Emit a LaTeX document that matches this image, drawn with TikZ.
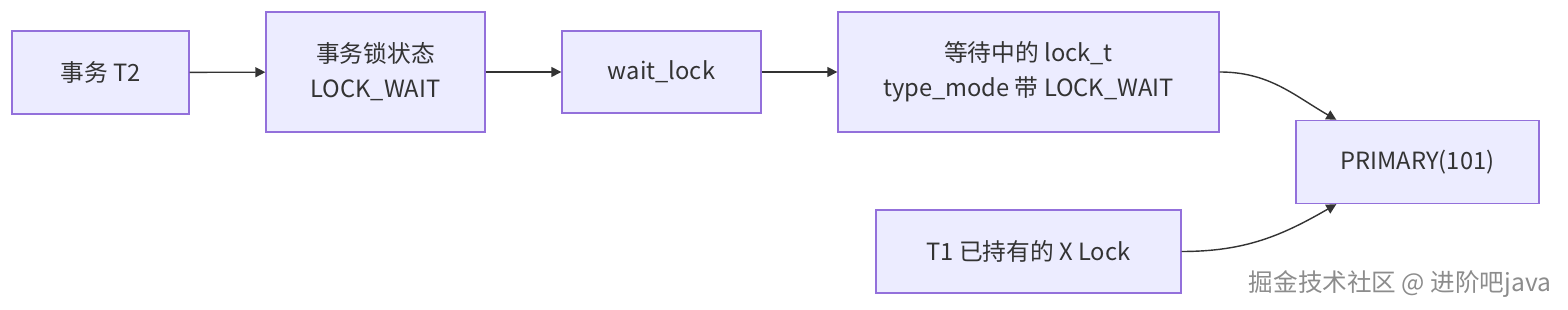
\documentclass[tikz,border=0pt]{standalone}
\usepackage{fontspec}
\setmainfont{Noto Sans CJK SC}
\usetikzlibrary{arrows.meta}
\definecolor{boxfill}{HTML}{ECECFF}
\definecolor{boxline}{HTML}{9370DB}
\definecolor{ink}{HTML}{333333}
\begin{document}
\begin{tikzpicture}[
    x=0.02cm,
    y=0.02cm,
    >={Triangle[length=0.2cm,width=0.2cm]},
    font=\fontsize{13.5}{20}\selectfont,
    paso/.style={draw=boxline,fill=boxfill,thick,text=ink,align=center,inner sep=0pt},
    flecha/.style={ink,thick,->}
]
    \useasboundingbox (0,0) rectangle (1568,310);

    % Cadena de espera de T2
    \node[paso,minimum width=3.54cm,minimum height=1.66cm] (t2) at (100.5,237.5) {事务 T2};
    \node[paso,minimum width=4.38cm,minimum height=2.4cm] (estado) at (375.5,238) {事务锁状态\\LOCK\_WAIT};
    \node[paso,minimum width=3.98cm,minimum height=1.64cm] (wait) at (661.5,238) {wait\_lock};
    \node[paso,minimum width=7.62cm,minimum height=2.4cm] (lockt) at (1028.5,238)
        {等待中的 lock\_t\\type\_mode 带 LOCK\_WAIT};

    % Registro y bloqueo de T1
    \node[paso,minimum width=4.86cm,minimum height=1.66cm] (primary) at (1417.5,148) {PRIMARY(101)};
    \node[paso,minimum width=6.1cm,minimum height=1.66cm] (xlock) at (1028.5,58.5) {T1 已持有的 X Lock};

    \draw[flecha] (t2) -- (estado);
    \draw[flecha] (estado) -- (wait);
    \draw[flecha] (wait) -- (lockt);
    \draw[flecha] (lockt.east) to[out=0,in=150] ([xshift=0.82cm]primary.north west);
    \draw[flecha] (xlock.east) to[out=0,in=210] ([xshift=0.82cm]primary.south west);

    \node[text=black!45,font=\fontsize{14}{16}\selectfont] (marca) at (1400,26) {掘金技术社区 @ 进阶吧java};
\end{tikzpicture}
\end{document}
